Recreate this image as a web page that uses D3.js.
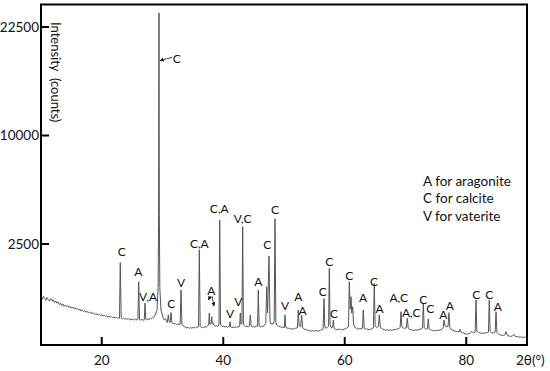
<!DOCTYPE html>
<html>
<head>
<meta charset="utf-8">
<script src="https://cdn.jsdelivr.net/npm/d3@7"></script>
<style>
  body { margin: 0; background: #fff; }
  text { font-family: Lato, "Open Sans", sans-serif; fill: #111; }
</style>
</head>
<body>
<div id="chart"></div>
<script>
// XRD scan: [2θ (deg), intensity (counts)]
const scan = [
  [10.0,650],[10.2,600],[10.4,670],[10.6,620],[10.8,580],[11.0,640],[11.2,595],[11.4,560],[11.6,615],[11.8,570],
  [12.0,590],[12.2,530],[12.4,565],[12.6,520],[12.8,545],[13.0,490],[13.2,515],[13.4,470],[13.6,500],[13.8,455],
  [14.0,480],[14.2,445],[14.4,465],[14.6,430],[14.8,455],[15.0,415],[15.2,440],[15.4,405],[15.6,425],[15.8,395],
  [16.0,410],[16.2,380],[16.4,400],[16.6,365],[16.8,385],[17.0,355],[17.2,375],[17.4,345],[17.6,360],[17.8,335],
  [18.0,350],[18.2,325],[18.4,340],[18.6,315],[18.8,330],[19.0,305],[19.2,320],[19.4,298],[19.6,310],[19.8,290],
  [20.0,303],[20.2,282],[20.4,295],[20.6,275],[20.8,288],[21.0,268],[21.2,280],[21.4,262],[21.6,274],[21.8,258],
  [22.0,268],[22.2,252],[22.4,262],[22.6,248],[22.8,258],[22.92,250],[23.05,1712],[23.2,255],
  [23.4,240],[23.6,252],[23.8,236],[24.0,248],[24.2,232],[24.4,244],[24.6,228],[24.8,240],[25.0,226],[25.2,238],
  [25.4,224],[25.6,236],[25.8,222],[25.95,232],[26.08,1064],[26.22,232],
  [26.4,222],[26.6,234],[26.8,220],[27.0,230],[27.12,520],[27.25,232],
  [27.4,226],[27.6,240],[27.8,232],[28.0,248],[28.2,240],[28.4,260],[28.6,268],[28.8,300],[29.1,380],
  [29.28,900],[29.36,4000],[29.42,24500],[29.48,4000],[29.56,900],[29.75,380],[30.1,260],
  [30.3,225],[30.5,240],[30.8,190],[30.95,300],[31.1,200],[31.25,190],[31.4,340],[31.55,190],[31.75,182],
  [31.9,170],[32.1,180],[32.3,165],[32.5,176],[32.7,166],[32.9,168],[33.05,830],[33.2,170],
  [33.4,150],[33.6,142],[33.8,135],[34.0,128],[34.2,136],[34.4,122],[34.6,133],[34.8,125],[35.0,134],[35.2,126],
  [35.4,138],[35.6,130],[35.8,138],[35.93,140],[36.06,2231],[36.2,145],
  [36.4,130],[36.6,138],[36.8,132],[37.0,142],[37.2,138],[37.4,150],[37.6,160],[37.7,331],[37.8,170],[38.0,175],
  [38.1,272],[38.2,180],[38.31,190],[38.45,160],
  [38.7,146],[38.9,152],[39.1,145],[39.3,162],[39.42,3728],[39.55,168],
  [39.7,150],[39.9,142],[40.1,148],[40.3,138],[40.5,144],[40.7,134],[40.9,142],[41.0,140],[41.11,201],[41.22,140],
  [41.4,132],[41.6,138],[41.8,130],[42.0,140],[42.2,134],[42.4,142],[42.6,140],[42.7,150],[42.81,331],[42.92,170],
  [43.08,180],[43.2,3361],[43.32,170],
  [43.5,150],[43.7,142],[43.9,148],[44.1,140],[44.32,150],[44.45,299],[44.6,150],
  [44.8,138],[45.0,145],[45.2,136],[45.4,146],[45.65,150],[45.77,830],[45.9,150],
  [46.1,140],[46.3,148],[46.5,142],[46.7,155],[46.9,165],[47.0,180],[47.15,919],[47.3,330],[47.53,1978],[47.7,200],
  [47.85,170],[48.0,180],[48.2,172],[48.38,200],[48.52,3800],[48.66,190],
  [48.8,160],[49.0,150],[49.2,144],[49.4,140],[49.6,134],[49.8,138],[50.05,132],[50.16,299],[50.27,135],
  [50.5,128],[50.7,122],[50.9,126],[51.1,118],[51.3,122],[51.5,115],[51.7,120],[51.9,125],[52.22,130],[52.35,384],
  [52.5,150],[52.75,145],[52.91,299],[53.05,130],
  [53.3,120],[53.5,112],[53.75,108],[54.0,104],[54.25,100],[54.5,97],[54.75,102],[55.0,98],[55.25,103],[55.5,96],
  [55.75,100],[56.0,105],[56.2,108],[56.44,115],[56.58,620],[56.72,140],
  [56.9,125],[57.1,132],[57.34,150],[57.46,1506],[57.58,160],[57.8,130],[58.0,135],[58.12,224],[58.25,125],
  [58.45,114],[58.7,110],[58.9,116],[59.1,112],[59.3,118],[59.5,108],[59.7,112],[59.9,115],[60.1,120],[60.3,125],
  [60.62,140],[60.75,1064],[60.9,400],[61.03,661],[61.15,330],[61.31,445],[61.45,170],
  [61.7,132],[61.9,125],[62.1,120],[62.3,116],[62.5,122],[62.7,118],[62.92,125],[63.05,384],[63.2,125],
  [63.4,118],[63.6,114],[63.8,118],[64.0,110],[64.2,115],[64.4,118],[64.72,130],[64.86,1017],[65.0,150],
  [65.2,135],[65.4,140],[65.55,145],[65.69,299],[65.85,140],
  [66.05,122],[66.3,115],[66.55,110],[66.8,106],[67.05,110],[67.3,103],[67.55,108],[67.8,105],[68.05,110],
  [68.3,112],[68.55,116],[68.8,120],[69.0,126],[69.12,135],[69.26,353],[69.4,140],
  [69.6,128],[69.8,124],[70.15,130],[70.3,249],[70.45,125],
  [70.65,115],[70.9,110],[71.15,106],[71.4,103],[71.65,108],[71.9,106],[72.15,112],[72.4,115],[72.6,118],
  [72.8,125],[72.93,520],[73.08,130],
  [73.3,118],[73.6,120],[73.75,240],[73.9,118],
  [74.15,110],[74.4,106],[74.65,102],[74.9,99],[75.15,104],[75.4,102],[75.65,108],[75.9,110],[76.2,130],
  [76.34,224],[76.5,150],[76.8,140],[77.0,145],[77.16,337],[77.3,130],
  [77.55,112],[77.8,105],[78.05,98],[78.3,95],[78.55,92],[78.8,90],[78.97,115],[79.15,88],[79.4,84],[79.6,80],
  [79.8,76],[80.0,70],[80.25,74],[80.5,75],[80.7,82],[80.9,95],[81.05,86],[81.2,80],[81.47,90],[81.6,585],
  [81.75,95],
  [82.0,86],[82.2,82],[82.45,80],[82.7,78],[82.95,82],[83.2,80],[83.45,84],[83.65,88],[83.79,585],[83.93,95],
  [84.15,84],[84.4,80],[84.6,84],[84.76,90],[84.9,353],[85.05,85],
  [85.3,72],[85.6,65],[85.85,64],[86.1,62],[86.35,66],[86.54,92],[86.8,60],[87.05,58],[87.3,55],[87.6,58],
  [87.86,70],[88.05,56],[88.2,52],[88.45,54],[88.7,50],[88.95,52],[89.2,48],[89.5,50],[89.8,50]
];

// phase labels: [text, 2θ, counts at label centre]
const peakLabels = [
  ["C",23.28,2158],["A",26.02,1376],["V,A",27.61,654],["C",32.34,18380],["C",31.45,500],["V",33.05,1017],
  ["C,A",36.06,2532],["A",38.03,816],["C,A",39.35,4355],["V",41.11,326],["V",42.48,548],["V,C",43.2,3768],
  ["A",45.77,1055],["C",47.25,2454],["C",48.52,4312],["V",50.16,469],["A",52.35,654],["A",53.05,378],
  ["C",56.39,790],["C",57.46,1751],["C",58.23,315],["C",60.73,1259],["A",63.0,647],["C",64.81,1055],
  ["A",65.75,407],["A,C",68.89,642],["A,C",70.94,340],["C",72.93,601],["C",74.08,406],["A",76.22,299],
  ["A",77.28,463],["C",81.66,702],["C",83.79,702],["A",85.18,440]
];

// pointer arrows: [from 2θ, from counts, to 2θ, to counts]
const pointers = [
  [31.6,18500,29.6,18100],
  [37.9,678,37.57,585],
  [38.15,678,38.48,459]
];

const xTicks = [20, 40, 60, 80];
const yTicks = [2500, 10000, 22500];
const legendLines = ["A for aragonite", "C for calcite", "V for vaterite"];

const width = 550, height = 371;
const plot = { left: 41, right: 527, top: 4.5, bottom: 345 };

const svg = d3.select('#chart').append('svg')
  .attr('width', width)
  .attr('height', height);

const x = d3.scaleLinear().domain([10, 90]).range([plot.left, plot.right]);
const y = d3.scaleSqrt().domain([0, 22500]).range([352.5, 27]);

svg.append('defs').append('clipPath').attr('id', 'clip')
  .append('rect')
  .attr('x', plot.left).attr('y', plot.top)
  .attr('width', plot.right - plot.left).attr('height', plot.bottom - plot.top);

svg.select('defs').append('marker')
  .attr('id', 'head')
  .attr('viewBox', '0 -5 10 10')
  .attr('refX', 9).attr('refY', 0)
  .attr('orient', 'auto')
  .attr('markerWidth', 5).attr('markerHeight', 5)
  .append('path')
  .attr('d', 'M0,-5L10,0L0,5Z')
  .attr('fill', '#111');

const line = d3.line().x(d => x(d[0])).y(d => y(d[1]));

svg.append('path')
  .datum(scan)
  .attr('clip-path', 'url(#clip)')
  .attr('fill', 'none')
  .attr('stroke', '#555')
  .attr('stroke-width', 1)
  .attr('d', line);

// frame
svg.append('rect')
  .attr('x', plot.left).attr('y', plot.top)
  .attr('width', plot.right - plot.left).attr('height', plot.bottom - plot.top)
  .attr('fill', 'none')
  .attr('stroke', '#000')
  .attr('stroke-width', 2);

// x ticks point inward
svg.selectAll('line.xt').data(xTicks).enter().append('line')
  .attr('class', 'xt')
  .attr('x1', d => x(d)).attr('x2', d => x(d))
  .attr('y1', plot.bottom).attr('y2', plot.bottom - 8)
  .attr('stroke', '#000').attr('stroke-width', 2);

svg.selectAll('text.xl').data(xTicks).enter().append('text')
  .attr('class', 'xl')
  .attr('x', d => x(d)).attr('y', 365)
  .attr('text-anchor', 'middle')
  .style('font-size', '13.5px')
  .text(d => d);

svg.append('text')
  .attr('x', 516).attr('y', 365)
  .style('font-size', '13.5px')
  .text('2θ(°)');

svg.selectAll('line.yt').data(yTicks).enter().append('line')
  .attr('class', 'yt')
  .attr('x1', plot.left).attr('x2', plot.left + 8)
  .attr('y1', d => y(d)).attr('y2', d => y(d))
  .attr('stroke', '#000').attr('stroke-width', 2);

svg.selectAll('text.yl').data(yTicks).enter().append('text')
  .attr('class', 'yl')
  .attr('x', 39).attr('y', d => y(d))
  .attr('dy', '0.35em')
  .attr('text-anchor', 'end')
  .style('font-size', '13.5px')
  .text(d => d);

svg.append('text')
  .attr('transform', 'translate(51,22) rotate(90)')
  .style('font-size', '13px')
  .style('white-space', 'pre')
  .text('Intensity  (counts)');

svg.selectAll('text.pk').data(peakLabels).enter().append('text')
  .attr('class', 'pk')
  .attr('x', d => x(d[1])).attr('y', d => y(d[2]))
  .attr('dy', '0.35em')
  .attr('text-anchor', 'middle')
  .style('font-size', '12px')
  .text(d => d[0]);

svg.selectAll('line.ptr').data(pointers).enter().append('line')
  .attr('class', 'ptr')
  .attr('x1', d => x(d[0])).attr('y1', d => y(d[1]))
  .attr('x2', d => x(d[2])).attr('y2', d => y(d[3]))
  .attr('stroke', '#111').attr('stroke-width', 0.8)
  .attr('marker-end', 'url(#head)');

svg.selectAll('text.lg').data(legendLines).enter().append('text')
  .attr('class', 'lg')
  .attr('x', 423).attr('y', (d, i) => 185.5 + i * 17.8)
  .style('font-size', '13.5px')
  .text(d => d);
</script>
</body>
</html>
